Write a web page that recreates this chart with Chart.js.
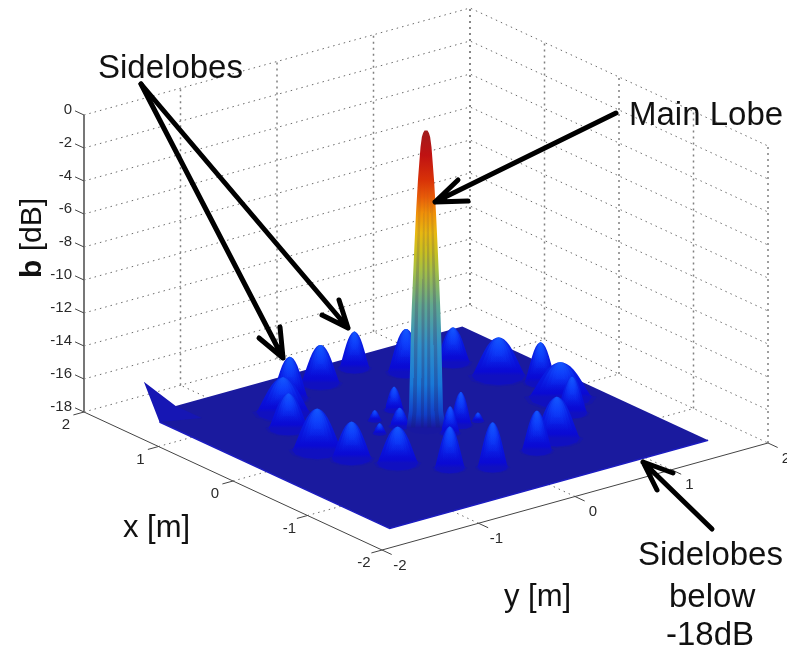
<!DOCTYPE html>
<html>
<head>
<meta charset="utf-8">
<title>Beam pattern</title>
<style>
  html, body { margin: 0; padding: 0; background: #fff; }
  canvas { display: block; filter: blur(0.5px); }
</style>
<script src="https://cdn.jsdelivr.net/npm/chart.js@4/dist/chart.umd.min.js"></script>
</head>
<body>
<canvas id="plot" width="787" height="653"></canvas>
<script>
// tick labels
const zTicks = [0, -2, -4, -6, -8, -10, -12, -14, -16, -18];
const xTicks = [2, 1, 0, -1, -2];
const yTicks = [-2, -1, 0, 1, 2];

// sidelobes: position [m], peak [dB], footprint radius [m]
const lobeX  = [1.22, 1.00, 0.68, 1.34, 1.44, 1.11, 1.05, 0.58, 0.25, -0.12, -0.47, -0.85, -0.97, -1.05, -0.85, -0.50, -0.18, 0.14, -0.13, -0.22, -0.14, 0.48, 0.16, 0.39, 0.13];
const lobeY  = [-0.47, -0.71, -0.90, -0.06, 0.37, 0.65, 1.09, 1.20, 1.38, 1.30, 1.15, 0.70, 0.40, -0.12, -0.41, -0.68, -0.91, -1.02, 0.26, 0.08, 0.43, 0.04, -0.15, -0.23, -0.38];
const lobeDb = [-15.5, -15.9, -15.9, -15.7, -15.8, -15.4, -15.9, -15.7, -15.6, -15.9, -15.8, -15.5, -15.6, -15.3, -15.5, -15.8, -15.8, -15.5, -16.0, -16.4, -17.5, -16.6, -16.9, -17.4, -17.4];
const lobeRadius = [0.15, 0.22, 0.165, 0.16, 0.125, 0.15, 0.14, 0.22, 0.13, 0.26, 0.125, 0.19, 0.125, 0.125, 0.125, 0.17, 0.165, 0.205, 0.09, 0.08, 0.05, 0.08, 0.085, 0.055, 0.055];

// outline of one sidelobe, fraction of height vs fraction of radius
const lobeProfileH = [0, 0.08, 0.2, 0.35, 0.5, 0.65, 0.78, 0.88, 0.95, 0.99, 1];
const lobeProfileR = [1, 0.92, 0.84, 0.74, 0.64, 0.53, 0.42, 0.31, 0.2, 0.09, 0];

// main lobe outline
const mainDb     = [0, -0.15, -0.4, -1, -3, -5, -7, -9, -11, -13, -15, -17, -18];
const mainRadius = [0.012, 0.024, 0.034, 0.045, 0.066, 0.082, 0.095, 0.107, 0.118, 0.127, 0.133, 0.14, 0.16];
const mainColorDb = [0, -1.5, -3, -4, -5, -6.2, -7.4, -8.4, -10.6, -13, -15.4, -17.2, -18];
const mainColors  = ['#a01c1c', '#c01212', '#d83208', '#e85a08', '#f09008', '#e8b810', '#c8c020', '#a8c040', '#60a890', '#3090c8', '#1878d8', '#1040c8', '#1818a0'];
const mainStreaks = [[-0.72, -0.5], [-0.28, -0.08], [0.12, 0.3], [0.55, 0.78]];

// surface edge, and the raised corner at its left
const surfaceEdge = 1.65;
const cornerDb = -16;

// projection of the box: screen units per metre / per dB
const ORIGIN = { sx: 426, sy: 427.5 };
const X_VEC = { sx: -74.5, sy: -34.5 };
const Y_VEC = { sx: 96.5, sy: -26.75 };
const DB_UNIT = 16.5;
const U = { x: 0.613, y: -0.79 };   // runs sideways on screen
const V = { x: -0.79, y: -0.613 };  // runs towards the viewer

function project(x, y, db) {
    return {
        x: ORIGIN.sx + x * X_VEC.sx + y * Y_VEC.sx,
        y: ORIGIN.sy + x * X_VEC.sy + y * Y_VEC.sy - (db + 18) * DB_UNIT
    };
}

function polyline(points, style) {
    return Object.assign({
        type: 'scatter', showLine: true, data: points, pointRadius: 0,
        fill: false, borderWidth: 1, tension: 0
    }, style);
}

function filled(points, color) {
    return polyline(points, { fill: 'shape', backgroundColor: color, borderWidth: 0, borderColor: 'transparent' });
}

// vertical gradient built from dB stops, through the plot's y scale
function dbGradient(x, y, dbs, colors) {
    return function (ctx) {
        const chart = ctx.chart;
        if (!chart.chartArea) return colors[colors.length - 1];
        const top = chart.scales.y.getPixelForValue(project(x, y, dbs[0]).y);
        const bottom = chart.scales.y.getPixelForValue(project(x, y, dbs[dbs.length - 1]).y);
        const g = chart.ctx.createLinearGradient(0, top, 0, bottom);
        dbs.forEach((d, i) => g.addColorStop((d - dbs[0]) / (dbs[dbs.length - 1] - dbs[0]), colors[i]));
        return g;
    };
}

const ARC = [[1, 0], [0.87, 0.5], [0.5, 0.87], [0, 1], [-0.5, 0.87], [-0.87, 0.5], [-1, 0]];

function lobeOutline(i, scale, firstStep, heightScale) {
    const cx = lobeX[i], cy = lobeY[i], r = lobeRadius[i] * scale;
    const peak = -18 + (lobeDb[i] + 18) * heightScale;
    const pts = [];
    const at = k => -18 + lobeProfileH[k] * (peak + 18);
    for (let k = firstStep; k < lobeProfileH.length; k++) {
        pts.push(project(cx + U.x * r * lobeProfileR[k], cy + U.y * r * lobeProfileR[k], at(k)));
    }
    for (let k = lobeProfileH.length - 2; k >= firstStep; k--) {
        pts.push(project(cx - U.x * r * lobeProfileR[k], cy - U.y * r * lobeProfileR[k], at(k)));
    }
    if (firstStep === 0) {
        ARC.forEach(a => {
            pts.push(project(cx - U.x * r * a[0] + V.x * r * a[1], cy - U.y * r * a[0] + V.y * r * a[1], -18));
        });
    }
    return pts;
}

function lobeDatasets(i) {
    const peak = lobeDb[i], cx = lobeX[i], cy = lobeY[i];
    const span = peak + 18;
    const out = [];
    // low skirt round the foot of the lobe
    out.push(filled(lobeOutline(i, 1.15, 0, 0.22), '#1616aa'));
    out.push(filled(lobeOutline(i, 1, 0, 1), dbGradient(cx, cy,
        [peak, peak - span * 0.45, peak - span * 0.9, -18],
        ['#0a2ce8', '#0818e0', '#0a0ad4', '#1010c0'])));
    [[0.8, 1], [0.6, 2], [0.42, 3], [0.25, 4]].forEach(layer => {
        out.push(filled(lobeOutline(i, layer[0], layer[1], 1), dbGradient(cx, cy,
            [peak, peak - span * 0.3, peak - span * 0.85],
            ['rgba(20,90,255,0.55)', 'rgba(15,70,255,0.45)', 'rgba(10,40,240,0)'])));
    });
    return out;
}

function mainDatasets() {
    const outline = [];
    const last = mainDb.length - 1;
    for (let k = last; k >= 0; k--) {
        outline.push(project(U.x * mainRadius[k], U.y * mainRadius[k], mainDb[k]));
    }
    for (let k = 0; k <= last; k++) {
        outline.push(project(-U.x * mainRadius[k], -U.y * mainRadius[k], mainDb[k]));
    }
    ARC.forEach(a => {
        const r = mainRadius[last];
        outline.push(project(-U.x * r * a[0] + V.x * r * a[1], -U.y * r * a[0] + V.y * r * a[1], -18));
    });
    const out = [filled(outline, dbGradient(0, 0, mainColorDb, mainColors))];
    mainStreaks.forEach(s => {
        const pts = [];
        for (let k = 4; k < mainDb.length; k++) pts.push(project(U.x * mainRadius[k] * s[0], U.y * mainRadius[k] * s[0], mainDb[k]));
        for (let k = mainDb.length - 1; k >= 4; k--) pts.push(project(U.x * mainRadius[k] * s[1], U.y * mainRadius[k] * s[1], mainDb[k]));
        out.push(filled(pts, dbGradient(0, 0, [-3, -8, -18], ['rgba(120,60,40,0)', 'rgba(90,80,90,0.3)', 'rgba(20,30,130,0.4)'])));
    });
    return out;
}

function gridDatasets() {
    const dots = { borderColor: '#6a6a6a', borderDash: [1.5, 4], borderWidth: 1 };
    const post = { borderColor: '#808080', borderDash: [2, 4], borderWidth: 1.5 };
    const out = [];
    zTicks.forEach(z => {
        out.push(polyline([project(2, -2, z), project(2, 2, z), project(-2, 2, z)], dots));
    });
    yTicks.filter(y => y > -2).forEach(y => {
        out.push(polyline([project(2, y, -18), project(2, y, 0)], post));
    });
    xTicks.forEach(x => {
        out.push(polyline([project(x, 2, -18), project(x, 2, 0)], post));
    });
    xTicks.filter(x => x > -2 && x < 2).forEach(x => {
        out.push(polyline([project(x, -2, -18), project(x, 2, -18)], dots));
    });
    yTicks.filter(y => y > -2 && y < 2).forEach(y => {
        out.push(polyline([project(-2, y, -18), project(2, y, -18)], dots));
    });
    // axes
    const axis = { borderColor: '#444', borderWidth: 1 };
    out.push(polyline([project(2, -2, -18), project(-2, -2, -18), project(-2, 2, -18)], axis));
    out.push(polyline([project(2, -2, -18), project(2, -2, 0)], { borderColor: '#777', borderWidth: 2 }));
    xTicks.forEach(x => out.push(polyline([project(x, -2, -18), project(x, -2.11, -18)], axis)));
    yTicks.forEach(y => out.push(polyline([project(-2, y, -18), project(-2.13, y, -18)], axis)));
    zTicks.forEach(z => out.push(polyline([project(2, -2, z), project(2.12, -2, z)], axis)));
    return out;
}

function surfaceDatasets() {
    const e = surfaceEdge;
    const floor = [
        project(e, -1.32, -18), project(e, e, -18), project(-e, e, -18),
        project(-e, -e, -18), project(1.44, -e, -18)
    ];
    return [
        filled(floor, '#1a1a9e'),
        polyline([project(1.44, -e, -18), project(-e, -e, -18), project(-e, e, -18)], { borderColor: '#1c1cc0', borderWidth: 1.5 }),
        filled([project(e, -e, cornerDb), project(1.44, -e, -18), project(1.3, -1.32, -18), project(e, -1.32, -18)], '#1616b4')
    ];
}

// back to front, main lobe sits in the middle of the pile
const depth = i => X_VEC.sy * lobeX[i] + Y_VEC.sy * lobeY[i];
const lobeOrder = lobeX.map((_, i) => i).sort((a, b) => depth(a) - depth(b));

const painted = [...gridDatasets(), ...surfaceDatasets()];
let mainDone = false;
lobeOrder.forEach(i => {
    if (!mainDone && depth(i) > 0) {
        painted.push(...mainDatasets());
        mainDone = true;
    }
    painted.push(...lobeDatasets(i));
});

// Chart.js paints the first dataset last
painted.reverse();

const TICK_FONT = '15px "Liberation Sans"';
const NOTE_FONT = '33px "Liberation Sans"';
const AXIS_FONT = '31px "Liberation Sans"';

const notes = [
    { text: 'Sidelobes', x: 98, y: 78 },
    { text: 'Main Lobe', x: 629, y: 125 },
    { text: 'Sidelobes', x: 638, y: 565 },
    { text: 'below', x: 669, y: 607 },
    { text: '-18dB', x: 666, y: 645 }
];
const arrows = [
    { from: [141, 84], to: [348, 328], barbs: [[339, 300], [322, 315]] },
    { from: [141, 84], to: [283, 358], barbs: [[280, 327], [259, 338]] },
    { from: [616, 113], to: [435, 202], barbs: [[458, 180], [468, 201]] },
    { from: [712, 529], to: [643, 462], barbs: [[657, 490], [673, 473]] }
];

const labelsPlugin = {
    id: 'labels',
    afterDatasetsDraw(chart) {
        const ctx = chart.ctx;
        const sx = v => chart.scales.x.getPixelForValue(v);
        const sy = v => chart.scales.y.getPixelForValue(v);
        ctx.save();

        // arrows
        ctx.strokeStyle = '#000';
        ctx.lineWidth = 5;
        ctx.lineCap = 'round';
        ctx.lineJoin = 'round';
        arrows.forEach(a => {
            ctx.beginPath();
            ctx.moveTo(sx(a.from[0]), sy(a.from[1]));
            ctx.lineTo(sx(a.to[0]), sy(a.to[1]));
            a.barbs.forEach(b => {
                ctx.moveTo(sx(b[0]), sy(b[1]));
                ctx.lineTo(sx(a.to[0]), sy(a.to[1]));
            });
            ctx.stroke();
        });

        // tick labels
        ctx.fillStyle = '#2a2a2a';
        ctx.font = TICK_FONT;
        ctx.textBaseline = 'middle';
        ctx.textAlign = 'right';
        zTicks.forEach(z => {
            const p = project(2, -2, z);
            ctx.fillText(String(z), sx(p.x) - 12, sy(p.y) - 5);
        });
        ctx.textAlign = 'center';
        xTicks.forEach(x => {
            const p = project(x, -2, -18);
            ctx.fillText(String(x), sx(p.x) - 18, sy(p.y) + 13);
        });
        yTicks.forEach(y => {
            const p = project(-2, y, -18);
            ctx.fillText(String(y), sx(p.x) + 18, sy(p.y) + 15.5);
        });

        // notes and axis titles
        ctx.fillStyle = '#111';
        ctx.textBaseline = 'alphabetic';
        ctx.textAlign = 'left';
        ctx.font = NOTE_FONT;
        notes.forEach(n => ctx.fillText(n.text, sx(n.x), sy(n.y)));
        ctx.font = AXIS_FONT;
        ctx.fillText('x [m]', sx(123), sy(537));
        ctx.fillText('y [m]', sx(504), sy(606));

        ctx.translate(sx(41), sy(278));
        ctx.rotate(-Math.PI / 2);
        ctx.font = 'bold 30px "Liberation Sans"';
        ctx.fillText('b', 0, 0);
        const w = ctx.measureText('b').width;
        ctx.font = '30px "Liberation Sans"';
        ctx.fillText(' [dB]', w, 0);
        ctx.restore();
    }
};

new Chart(document.getElementById('plot'), {
    type: 'scatter',
    data: { datasets: painted },
    options: {
        responsive: false,
        animation: false,
        layout: { padding: 0 },
        plugins: { legend: { display: false }, tooltip: { enabled: false } },
        scales: {
            x: { type: 'linear', min: 0, max: 787, display: false },
            y: { type: 'linear', min: 0, max: 653, reverse: true, display: false }
        }
    },
    plugins: [labelsPlugin]
});
</script>
</body>
</html>
